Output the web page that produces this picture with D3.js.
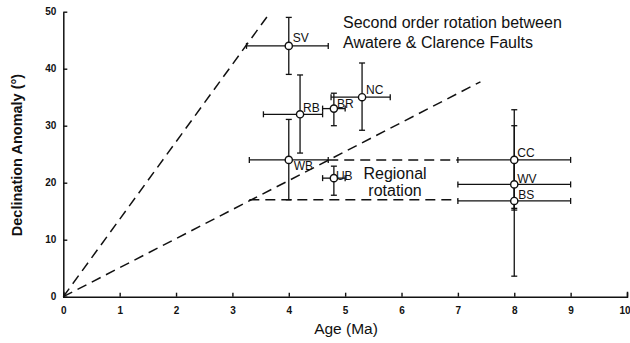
<!DOCTYPE html>
<html>
<head>
<meta charset="utf-8">
<script src="https://cdn.jsdelivr.net/npm/d3@7"></script>
<style>
  body { margin: 0; background: #fff; }
  svg { display: block; }
  .tick text { font-family: "Liberation Sans", Arial, sans-serif; font-weight: bold; font-size: 10px; fill: #111; }
  .lbl { font-family: "Liberation Sans", Arial, sans-serif; fill: #111; }
</style>
</head>
<body>
<div id="chart"></div>
<script>
// Site data (age in Ma, declination anomaly in degrees)
var sites   = ["SV", "RB", "BR", "NC", "WB", "UB", "CC", "WV", "BS"];
var age     = [4.0, 4.2, 4.8, 5.3, 4.0, 4.8, 8.0, 8.0, 8.0];
var ageLo   = [3.25, 3.55, 4.6, 4.75, 3.3, 4.6, 7.0, 7.0, 7.0];
var ageHi   = [4.7, 4.6, 5.0, 5.8, 4.7, 5.0, 9.0, 9.0, 9.0];
var anomaly = [44, 32, 33, 35, 24, 20.8, 24, 19.7, 16.8];
var anomLo  = [39, 25.2, 30, 29.2, 17, 17.8, 15.2, 15.5, 3.6];
var anomHi  = [49, 38.9, 35.7, 41, 31.1, 22.9, 32.8, 24, 30];

// Dashed guide lines [age, anomaly]
var steepLine    = [[0, 0], [3.65, 49.6]];
var regionalLine = [[0, 0], [7.4, 37.7]];
var regionalLow  = [[3.3, 17], [7.0, 17]];
var regionalHigh = [[4.7, 24], [7.0, 24]];

var xTicks = [0, 1, 2, 3, 4, 5, 6, 7, 8, 9, 10];
var yTicks = [0, 10, 20, 30, 40, 50];

var svgWidth = 630;
var svgHeight = 343;

var svg = d3.select("#chart")
    .append("svg")
    .attr("width", svgWidth)
    .attr("height", svgHeight);

var x = d3.scaleLinear().domain([0, 10]).range([63.3, 627]);
var y = d3.scaleLinear().domain([0, 50]).range([296.7, 11.7]);

// Axes (ticks point inward)
var bottomAxis = d3.axisBottom(x).tickValues(xTicks).tickSize(-4).tickSizeOuter(-5).tickPadding(8);
var leftAxis = d3.axisLeft(y).tickValues(yTicks).tickSize(-4).tickSizeOuter(0).tickPadding(7);

var gx = svg.append("g")
    .attr("transform", `translate(0, ${y(0)})`)
    .call(bottomAxis);
var gy = svg.append("g")
    .attr("transform", `translate(${x(0)}, 0)`)
    .call(leftAxis);

[gx, gy].forEach(function (g) {
    g.select(".domain").attr("stroke", "#111").attr("stroke-width", 1.5);
    g.selectAll(".tick line").attr("stroke", "#111").attr("stroke-width", 1.4);
});
gx.selectAll(".tick text").attr("dy", "0.9em");
// last label sits against the right edge, as in the scan
gx.selectAll(".tick text").filter(d => d === 10).attr("text-anchor", "end").attr("x", 3);

// Dashed lines
var line = d3.line().x(d => x(d[0])).y(d => y(d[1]));
[steepLine, regionalLine, regionalLow, regionalHigh].forEach(function (pts) {
    svg.append("path")
        .attr("d", line(pts))
        .attr("fill", "none")
        .attr("stroke", "#111")
        .attr("stroke-width", 1.5)
        .attr("stroke-dasharray", "10,6");
});

// Error bars
var cap = 3;
var bars = svg.append("g").attr("stroke", "#111").attr("stroke-width", 1.3);
sites.forEach(function (s, i) {
    var cx = x(age[i]), cy = y(anomaly[i]);
    bars.append("line").attr("x1", x(ageLo[i])).attr("x2", x(ageHi[i])).attr("y1", cy).attr("y2", cy);
    bars.append("line").attr("x1", x(ageLo[i])).attr("x2", x(ageLo[i])).attr("y1", cy - cap).attr("y2", cy + cap);
    bars.append("line").attr("x1", x(ageHi[i])).attr("x2", x(ageHi[i])).attr("y1", cy - cap).attr("y2", cy + cap);
    bars.append("line").attr("x1", cx).attr("x2", cx).attr("y1", y(anomLo[i])).attr("y2", y(anomHi[i]));
    bars.append("line").attr("x1", cx - cap).attr("x2", cx + cap).attr("y1", y(anomLo[i])).attr("y2", y(anomLo[i]));
    bars.append("line").attr("x1", cx - cap).attr("x2", cx + cap).attr("y1", y(anomHi[i])).attr("y2", y(anomHi[i]));
});

// Markers
svg.selectAll("circle.site")
    .data(sites)
    .enter()
    .append("circle")
    .attr("class", "site")
    .attr("cx", (d, i) => x(age[i]))
    .attr("cy", (d, i) => y(anomaly[i]))
    .attr("r", 3.6)
    .attr("fill", "#fff")
    .attr("stroke", "#111")
    .attr("stroke-width", 1.4);

// Site labels, nudged like the original figure
var nudge = {
    SV: [4, -4], RB: [3, -2], BR: [3, -1], NC: [4, -3], WB: [5, 10],
    UB: [2, 2], CC: [3, -3], WV: [3, -1], BS: [4, -2]
};
svg.selectAll("text.site")
    .data(sites)
    .enter()
    .append("text")
    .attr("class", "lbl")
    .attr("x", (d, i) => x(age[i]) + nudge[d][0])
    .attr("y", (d, i) => y(anomaly[i]) + nudge[d][1])
    .attr("font-size", "12px")
    .text(d => d);

// Annotations
svg.append("text").attr("class", "lbl")
    .attr("x", 343).attr("y", 28).attr("font-size", "16px")
    .text("Second order rotation between");
svg.append("text").attr("class", "lbl")
    .attr("x", 343).attr("y", 48).attr("font-size", "16px")
    .text("Awatere & Clarence Faults");
svg.append("text").attr("class", "lbl")
    .attr("x", 395).attr("y", 179).attr("font-size", "16px")
    .attr("text-anchor", "middle")
    .text("Regional");
svg.append("text").attr("class", "lbl")
    .attr("x", 395).attr("y", 196).attr("font-size", "16px")
    .attr("text-anchor", "middle")
    .text("rotation");

// Axis titles
svg.append("text").attr("class", "lbl")
    .attr("transform", "translate(22, 155) rotate(-90)")
    .attr("text-anchor", "middle")
    .attr("font-size", "14.5px")
    .attr("font-weight", "bold")
    .text("Declination Anomaly (°)");
svg.append("text").attr("class", "lbl")
    .attr("x", 346).attr("y", 334)
    .attr("text-anchor", "middle")
    .attr("font-size", "15.5px")
    .text("Age (Ma)");
</script>
</body>
</html>
